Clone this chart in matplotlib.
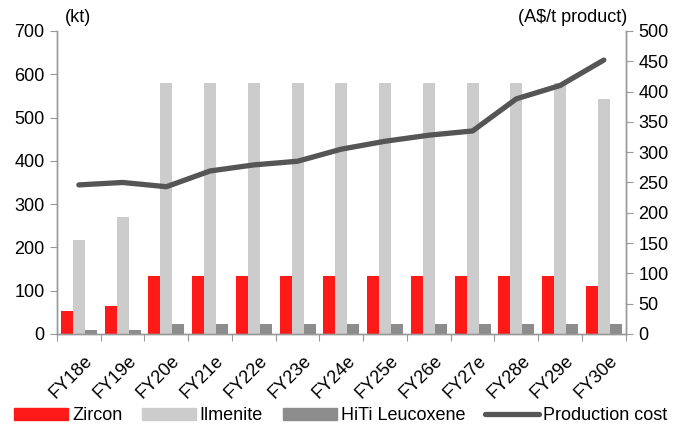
import matplotlib
matplotlib.use("Agg")
import matplotlib.pyplot as plt
import matplotlib.transforms as mtransforms
import numpy as np
from matplotlib.patches import Patch
from matplotlib.lines import Line2D

plt.rcParams['font.family'] = ['Liberation Sans', 'DejaVu Sans']

categories = ["FY18e", "FY19e", "FY20e", "FY21e", "FY22e", "FY23e", "FY24e",
              "FY25e", "FY26e", "FY27e", "FY28e", "FY29e", "FY30e"]
zircon = [52, 65, 135, 135, 135, 135, 135, 135, 135, 135, 135, 135, 110]
ilmenite = [217, 270, 580, 580, 580, 580, 580, 580, 580, 580, 580, 580, 543]
hiti = [10, 10, 24, 24, 24, 24, 24, 24, 24, 24, 24, 24, 24]
prod_cost = [246, 250, 243, 269, 279, 285, 305, 318, 328, 335, 388, 410, 452]

c_zircon = "#FF1A1A"
c_ilm = "#CCCCCC"
c_hiti = "#8C8C8C"
c_line = "#555555"
spine_c = "#999999"
fs = 13

fig = plt.figure(figsize=(6.73, 4.30), dpi=100)
ax = fig.add_axes([0.0847, 0.2233, 0.845, 0.7047])
x = np.arange(len(categories))
w = 0.274
ax.bar(x - w, zircon, w, color=c_zircon, label="Zircon")
ax.bar(x, ilmenite, w, color=c_ilm, label="Ilmenite")
ax.bar(x + w, hiti, w, color=c_hiti, label="HiTi Leucoxene")
ax.set_xlim(-0.5, len(categories) - 0.5)
ax.set_ylim(0, 700)
ax.set_yticks(range(0, 701, 100))

ax2 = ax.twinx()
ax2.plot(x, prod_cost, color=c_line, lw=3.8, solid_capstyle='round', label="Production cost")
ax2.set_ylim(0, 500)
ax2.set_yticks(range(0, 501, 50))

ax.set_xticks(np.arange(-0.5, len(categories), 1.0))
ax.set_xticklabels([])
ax.set_xticks(x, minor=True)
ax.set_xticklabels(categories, minor=True, rotation=45, ha='right', va='top',
                   rotation_mode='anchor', fontsize=fs)
ax.tick_params(axis='x', which='minor', length=0, pad=13)
ax.tick_params(axis='x', which='major', length=5, color=spine_c, direction='out')
offset = mtransforms.ScaledTranslation(5 / 100, 0, fig.dpi_scale_trans)
for lbl in ax.get_xticklabels(minor=True):
    lbl.set_transform(lbl.get_transform() + offset)

for a in (ax, ax2):
    a.spines['top'].set_visible(False)
    for s in ('left', 'right', 'bottom'):
        a.spines[s].set_color(spine_c)
        a.spines[s].set_linewidth(1.0)
ax.tick_params(axis='y', labelsize=fs, color=spine_c, length=5, pad=4)
ax2.tick_params(axis='y', labelsize=fs, color=spine_c, length=5, pad=4)

fig.text(0.097, 0.94, "(kt)", fontsize=fs, ha='left', va='bottom')
fig.text(0.932, 0.94, "(A$/t product)", fontsize=fs, ha='right', va='bottom')

handles = [Patch(color=c_zircon), Patch(color=c_ilm), Patch(color=c_hiti),
           Line2D([0], [0], color=c_line, lw=3.8, solid_capstyle='round')]
labels = ["Zircon", "Ilmenite", "HiTi Leucoxene", "Production cost"]
fig.legend(handles, labels, loc='lower left', bbox_to_anchor=(0.005, -0.012), ncol=4,
           frameon=False, fontsize=fs, handlelength=3.0, handleheight=0.65,
           handletextpad=0.2, columnspacing=1.1, borderaxespad=0.2)

fig.savefig("out.png", dpi=100)
